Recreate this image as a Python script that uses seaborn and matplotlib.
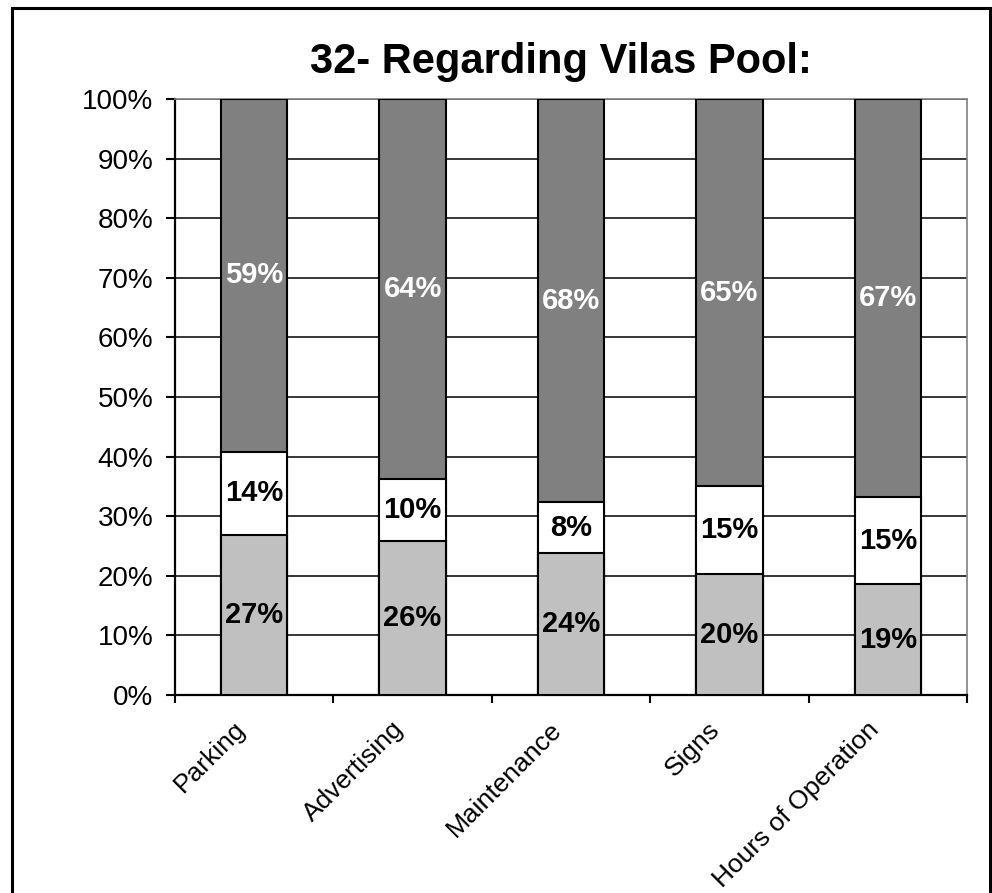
"""
Stacked 100% bar chart: 32- Regarding Vilas Pool.
"""
import pandas as pd
import matplotlib
matplotlib.use("Agg")
import matplotlib.pyplot as plt
from matplotlib.patches import Rectangle
from matplotlib.ticker import PercentFormatter, FixedLocator
from matplotlib.transforms import ScaledTranslation
import seaborn as sns

# Data (percent of responses)
categories = ["Parking", "Advertising", "Maintenance", "Signs", "Hours of Operation"]
low = [26.9, 25.9, 23.9, 20.3, 18.6]      # light gray, bottom segment
mid = [13.9, 10.4, 8.4, 14.7, 14.6]       # white, middle segment
high = [59.2, 63.7, 67.7, 65.0, 66.8]     # dark gray, top segment
title = "32- Regarding Vilas Pool:"

sns.set_style("white")
plt.rcParams["font.family"] = ["Liberation Sans", "DejaVu Sans"]
for key in ["text.color", "axes.labelcolor", "xtick.color", "ytick.color"]:
    plt.rcParams[key] = "black"

df = pd.DataFrame({"category": categories, "low": low, "mid": mid, "high": high})
df["low_mid"] = df["low"] + df["mid"]
df["total"] = df["low_mid"] + df["high"]

fig = plt.figure(figsize=(9.92, 8.93), dpi=100)
ax = fig.add_axes([175 / 992, 1 - 695 / 893, (967 - 175) / 992, (695 - 99) / 893])

bar_kw = dict(width=0.42, edgecolor="black", linewidth=1.5, saturation=1, ax=ax, zorder=3)
sns.barplot(data=df, x="category", y="total", color="#808080", **bar_kw)
sns.barplot(data=df, x="category", y="low_mid", color="white", **bar_kw)
sns.barplot(data=df, x="category", y="low", color="#C0C0C0", **bar_kw)

# Segment labels
for i, row in df.iterrows():
    ax.text(i, row["low"] / 2, f"{row['low']:.0f}%", ha="center", va="center",
            fontsize=21, fontweight="bold", color="black", zorder=5)
    ax.text(i, row["low"] + row["mid"] / 2, f"{row['mid']:.0f}%", ha="center", va="center",
            fontsize=21, fontweight="bold", color="black", zorder=5)
    ax.text(i, row["low_mid"] + row["high"] / 2, f"{row['high']:.0f}%", ha="center", va="center",
            fontsize=21, fontweight="bold", color="white", zorder=5)

ax.set_xlim(-0.5, len(categories) - 0.5)
ax.set_ylim(0, 100)
ax.set_xlabel("")
ax.set_ylabel("")

# Y axis
ax.set_yticks(range(0, 101, 10))
ax.yaxis.set_major_formatter(PercentFormatter(100, decimals=0))
ax.tick_params(axis="y", left=True, length=6.5, width=1.5, color="black",
               labelsize=20, pad=9)
ax.yaxis.grid(True, color="black", linewidth=1.1)
ax.set_axisbelow(True)

# X axis: labels at centers, tick marks at category boundaries
ax.xaxis.set_minor_locator(FixedLocator([x - 0.5 for x in range(len(categories) + 1)]))
ax.tick_params(axis="x", which="minor", bottom=True, length=6, width=1.5, color="black")
ax.tick_params(axis="x", which="major", bottom=True, length=0, labelsize=19, pad=22)
ax.set_xticks(range(len(categories)))
ax.set_xticklabels(categories)
shift = ScaledTranslation(-13 / 100, 0, fig.dpi_scale_trans)
for lab in ax.get_xticklabels():
    lab.set_rotation(45)
    lab.set_ha("right")
    lab.set_va("center")
    lab.set_rotation_mode("anchor")
    lab.set_transform(lab.get_transform() + shift)

for side in ["left", "bottom"]:
    ax.spines[side].set_color("black")
    ax.spines[side].set_linewidth(1.6)
for side in ["top", "right"]:
    ax.spines[side].set_color("#808080")
    ax.spines[side].set_linewidth(1.2)

fig.text(561 / 992, 1 - 73 / 893, title, ha="center", va="baseline",
         fontsize=30, fontweight="bold", color="black")

# Outer chart border (bottom edge falls outside the image)
border = Rectangle((12 / 992, -0.05), (990 - 12) / 992, 1.05 - 8 / 893,
                   transform=fig.transFigure, fill=False, edgecolor="black",
                   linewidth=2.2, clip_on=False)
fig.patches.append(border)

fig.savefig("out.png", dpi=100)
